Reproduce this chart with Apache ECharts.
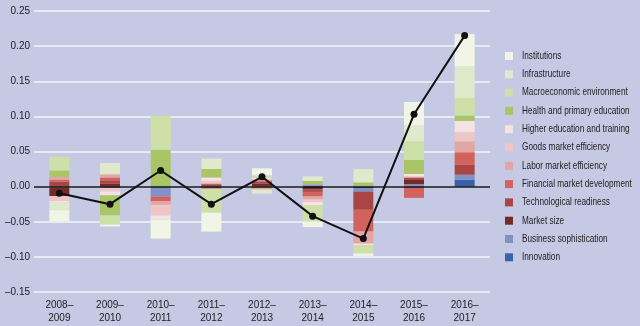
<!DOCTYPE html>
<html>
<head>
<meta charset="utf-8">
<script src="https://cdn.jsdelivr.net/npm/echarts@6/dist/echarts.min.js"></script>
<style>
  html, body { margin: 0; padding: 0; background: #c5c9e3; }
  #chart { width: 640px; height: 326px; }
</style>
</head>
<body>
<div id="chart"></div>
<script>
// Periods on the category axis
const categories = ['2008–\n2009', '2009–\n2010', '2010–\n2011', '2011–\n2012', '2012–\n2013',
                    '2013–\n2014', '2014–\n2015', '2015–\n2016', '2016–\n2017'];

// Contribution of each pillar, per period (stacked bottom-up in this order)
const innovation    = [0, 0, -0.001, 0, 0, 0.001, -0.002, 0.001, 0.010];
const business      = [-0.002, -0.002, -0.013, 0, 0, 0.002, -0.005, 0.0025, 0.007];
const marketSize    = [-0.0115, 0.004, 0, 0.002, 0.004, -0.004, 0, 0.006, 0];
const techReadiness = [0.007, 0.004, 0, 0.0015, 0.003, -0.0035, -0.026, 0.0035, 0.014];
const financial     = [0.003, 0.005, -0.007, -0.003, 0.002, -0.0065, -0.031, -0.016, 0.018];
const labor         = [0.0035, 0.0045, -0.005, 0.0015, -0.004, -0.004, -0.0166, 0, 0.0155];
const goods         = [-0.007, -0.0047, -0.015, 0.0033, 0.002, -0.004, -0.001, 0.002, 0.013];
const higherEd      = [-0.0025, -0.0057, -0.006, 0.0048, 0.002, -0.0047, -0.0015, 0.003, 0.016];
const health        = [0.0095, -0.0286, 0.0524, 0.012, 0, 0.005, 0.006, 0.020, 0.0077];
const macro         = [0.0195, -0.0129, 0.0486, -0.034, 0.003, -0.023, -0.012, 0.0265, 0.025];
const infra         = [-0.0105, 0.016, 0, 0.015, -0.006, 0.0065, 0.019, 0.0225, 0.045];
const institutions  = [-0.016, -0.0029, -0.027, -0.027, 0.010, -0.008, -0.0035, 0.0335, 0.046];

// Overall change, drawn as the line
const netChange = [-0.0095, -0.025, 0.023, -0.025, 0.014, -0.042, -0.074, 0.103, 0.215];

// Y-axis ticks
const yTicks = { min: -0.15, max: 0.25, step: 0.05 };

const pillars = [
  { name: 'Innovation', data: innovation, color: '#3562a8' },
  { name: 'Business sophistication', data: business, color: '#7e92c6' },
  { name: 'Market size', data: marketSize, color: '#742b27' },
  { name: 'Technological readiness', data: techReadiness, color: '#a94643' },
  { name: 'Financial market development', data: financial, color: '#d1625d' },
  { name: 'Labor market efficiency', data: labor, color: '#e4a6a4' },
  { name: 'Goods market efficiency', data: goods, color: '#eec6c6' },
  { name: 'Higher education and training', data: higherEd, color: '#f5e2e2' },
  { name: 'Health and primary education', data: health, color: '#a9c565' },
  { name: 'Macroeconomic environment', data: macro, color: '#cde0a7' },
  { name: 'Infrastructure', data: infra, color: '#dfe9cc' },
  { name: 'Institutions', data: institutions, color: '#f1f5e5' }
];

const FONT = '"Liberation Sans", Arial, sans-serif';
const TEXT_COLOR = '#222';

// Legend: a condensed key, top entry = last pillar in the stack
const legendLeft = 505, legendTop = 56, legendStep = 18.3;
const legendItems = [];
pillars.slice().reverse().forEach((p, i) => {
  const cy = legendTop + i * legendStep;
  legendItems.push({
    type: 'rect',
    shape: { x: legendLeft, y: cy - 4, width: 8, height: 8 },
    style: { fill: p.color },
    silent: true
  });
  legendItems.push({
    type: 'text',
    x: legendLeft + 17,
    y: cy,
    scaleX: 0.8,
    style: {
      text: p.name,
      x: 0, y: 0,
      fill: TEXT_COLOR,
      font: '10.3px ' + FONT,
      verticalAlign: 'middle',
      align: 'left'
    },
    silent: true
  });
});

const chart = echarts.init(document.getElementById('chart'));

const barSeries = pillars.map(p => ({
  name: p.name,
  type: 'bar',
  stack: 'total',
  barWidth: 20,
  data: p.data,
  itemStyle: { color: p.color },
  emphasis: { disabled: true }
}));

chart.setOption({
  backgroundColor: '#c5c9e3',
  animation: false,
  textStyle: { fontFamily: FONT },
  grid: { left: 34, right: 150, top: 11, bottom: 34 },
  graphic: legendItems,
  xAxis: {
    type: 'category',
    data: categories,
    axisLine: { show: false },
    axisTick: { show: false },
    axisLabel: { fontFamily: FONT, fontSize: 10, color: TEXT_COLOR, lineHeight: 13, margin: 7 }
  },
  yAxis: {
    type: 'value',
    min: yTicks.min,
    max: yTicks.max,
    interval: yTicks.step,
    axisLine: { show: false },
    axisTick: { show: false },
    splitLine: { lineStyle: { color: '#f3f3f9', width: 1.5 } },
    axisLabel: {
      fontFamily: FONT, fontSize: 10, color: TEXT_COLOR, margin: 4,
      formatter: v => {
        const s = (Math.round(v * 100) / 100).toFixed(2);
        return s.replace('-', '–');
      }
    }
  },
  series: [
    ...barSeries,
    {
      name: 'Net change',
      type: 'line',
      data: netChange,
      z: 10,
      symbol: 'circle',
      symbolSize: 7,
      lineStyle: { color: '#111', width: 2 },
      itemStyle: { color: '#111' },
      emphasis: { disabled: true },
      markLine: {
        silent: true,
        symbol: 'none',
        label: { show: false },
        lineStyle: { color: '#111', width: 1.5, type: 'solid' },
        data: [{ yAxis: 0 }]
      }
    }
  ]
});
</script>
</body>
</html>
